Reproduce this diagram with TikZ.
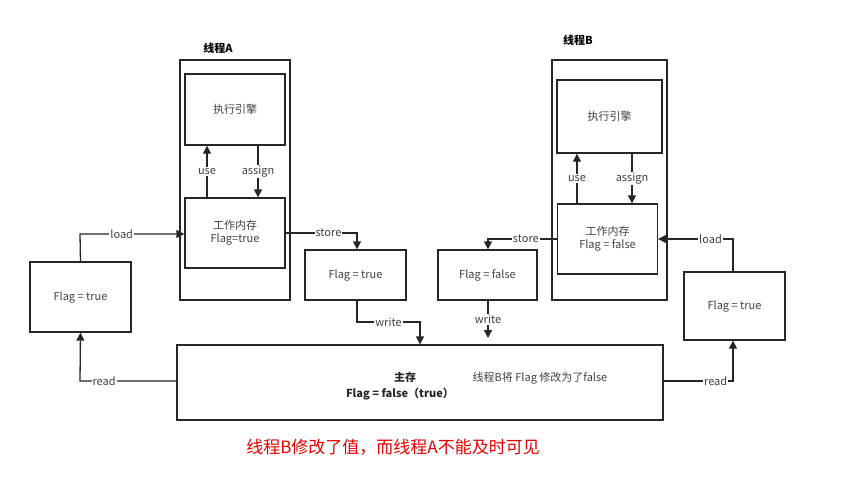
\documentclass[tikz,border=0pt]{standalone}
\usepackage{fontspec}
\setmainfont{Noto Sans CJK SC}
\usetikzlibrary{arrows.meta}
\begin{document}
\begin{tikzpicture}[x=1pt,y=-1pt,
  box/.style={draw=black!85,line width=1.3pt,inner sep=0pt},
  txt/.style={font=\fontsize{11}{13}\selectfont,text=black!75,align=center},
  lbl/.style={font=\fontsize{11}{13}\selectfont,text=black!75,fill=white,inner sep=1pt},
  ar/.style={draw=black!85,line width=1.3pt,-{Triangle[length=8pt,width=8pt]}},
  ln/.style={draw=black!85,line width=1.3pt}]
\useasboundingbox (0,0) rectangle (842,498);
% thread A
\node[box,minimum width=110,minimum height=240] (TA) at (235,180) {};
\node[font=\bfseries\fontsize{11}{13}\selectfont] (TAl) at (218,48) {线程A};
\node[box,txt,minimum width=100,minimum height=71] (EA) at (235,109.5) {执行引擎};
\node[box,txt,minimum width=100,minimum height=70] (WA) at (235,233) {工作内存\\Flag=true};
\draw[ar] (WA.north -| 207,0) -- (EA.south -| 207,0) node[lbl,pos=0.5] {use};
\draw[ar] (EA.south -| 258,0) -- (WA.north -| 258,0) node[lbl,pos=0.5] {assign};
% thread B
\node[box,minimum width=115,minimum height=240] (TB) at (609.5,180) {};
\node[font=\bfseries\fontsize{11}{13}\selectfont] (TBl) at (578,40) {线程B};
\node[box,txt,minimum width=105,minimum height=73] (EB) at (609.5,116.5) {执行引擎};
\node[box,txt,minimum width=100,minimum height=70] (WB) at (607.5,239) {工作内存\\Flag = false};
\draw[ar] (WB.north -| 577,0) -- (EB.south -| 577,0) node[lbl,pos=0.5] {use};
\draw[ar] (EB.south -| 632,0) -- (WB.north -| 632,0) node[lbl,pos=0.5] {assign};
% boxes
\node[box,txt,minimum width=101,minimum height=70] (L) at (80.5,297) {Flag = true};
\node[box,txt,minimum width=101,minimum height=50] (SA) at (355.5,275) {Flag = true};
\node[box,txt,minimum width=99,minimum height=50] (SB) at (487.5,275) {Flag = false};
\node[box,txt,minimum width=101,minimum height=68] (R) at (734.5,306) {Flag = true};
\node[box,minimum width=486,minimum height=75] (M) at (420,382.5) {};
\node[font=\bfseries\fontsize{11}{13}\selectfont,text=black!85] (Mt) at (405,377) {主存};
\node[font=\bfseries\fontsize{11}{13}\selectfont,text=black!85] (Mf) at (400,394) {Flag = false（true）};
\node[txt] (Mn) at (540,378) {线程B将 Flag 修改为了false};
% connectors
\coordinate (c1) at (80,234);
\draw[ar] (L.north) -- (c1) -- (WA.west |- c1) node[lbl,pos=0.4] {load};
\coordinate (c2) at (357,233);
\draw[ar] (WA.east |- c2) -- node[lbl,pos=0.6] {store} (c2) -- (SA.north -| c2);
\coordinate (c3) at (357,322); \coordinate (c4) at (420,322);
\draw[ar] (SA.south -| c3) -- (c3) -- node[lbl] {write} (c4) -- (M.north -| c4);
\coordinate (c5) at (488,239);
\draw[ar] (WB.west |- c5) -- node[lbl,pos=0.45] {store} (c5) -- (SB.north -| c5);
\coordinate (c6) at (488,338);
\draw[ar] (SB.south -| c6) -- node[lbl] {write} (c6);
\coordinate (c7) at (80,381);
\draw[ar] (M.west |- c7) -- node[lbl,pos=0.75] {read} (c7) -- (L.south);
\coordinate (c8) at (733,381);
\draw[ar] (M.east |- c8) -- node[lbl,pos=0.75] {read} (c8) -- (R.south -| c8);
\coordinate (c9) at (733,239);
\draw[ar] (R.north -| c9) -- (c9) -- node[lbl,pos=0.3] {load} (WB.east |- c9);
\node[font=\fontsize{17}{20}\selectfont,text=red!90!black] (red) at (393,447) {线程B修改了值，而线程A不能及时可见};
\end{tikzpicture}
\end{document}
